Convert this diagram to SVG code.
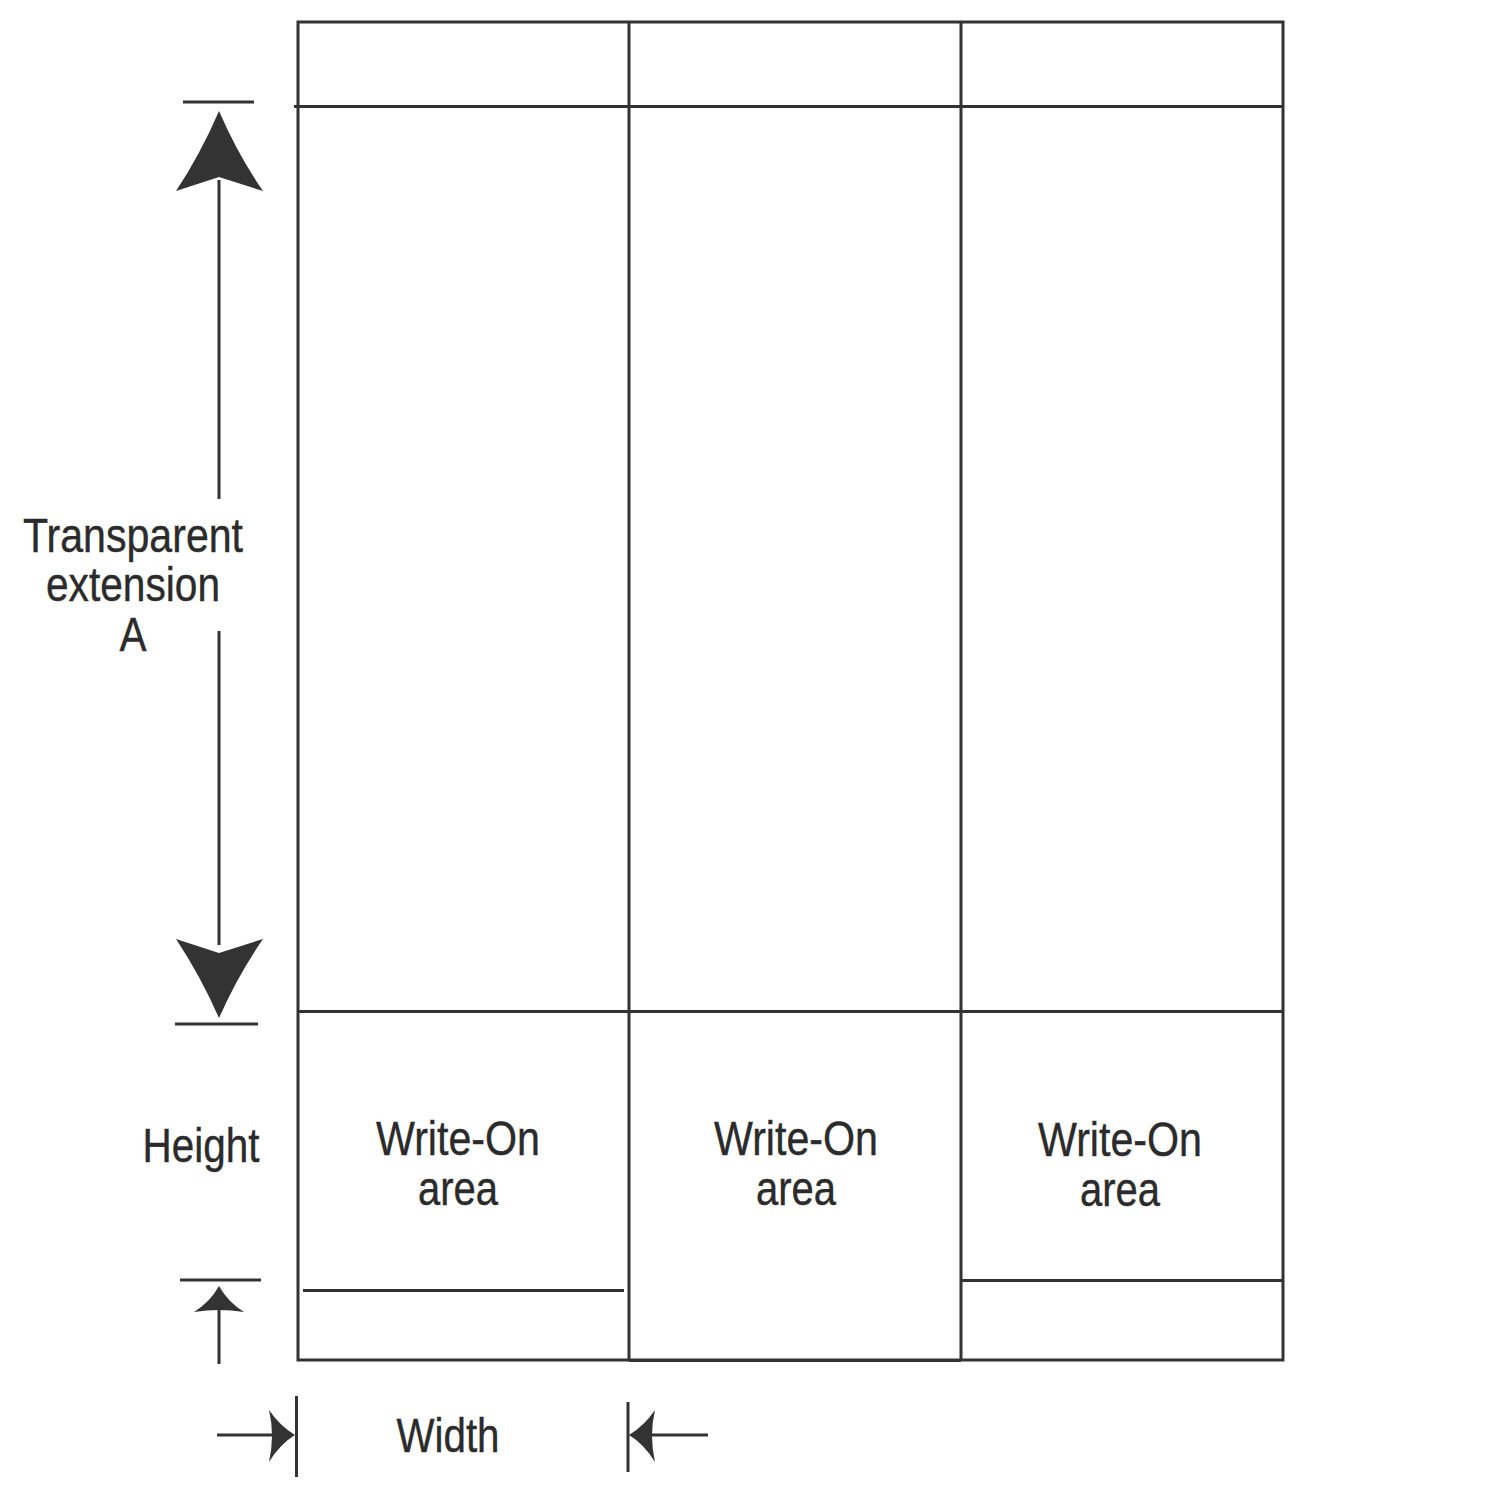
<svg xmlns="http://www.w3.org/2000/svg" width="1500" height="1500" viewBox="0 0 1500 1500">
<style>
.ln{stroke:#333;stroke-width:3;fill:none}
.ah{fill:#333;stroke:none}
.t{font-family:"Liberation Sans",Arial,sans-serif;font-size:48px;fill:#2b2b2b;stroke:#2b2b2b;stroke-width:0.4;text-anchor:middle}
</style>
<rect width="1500" height="1500" fill="#fff"/>
<g id="frame">
<rect class="ln" x="298" y="22" width="985" height="1338"/>
<line class="ln" x1="294" y1="106.5" x2="1283" y2="106.5"/>
<line class="ln" x1="298" y1="1011.5" x2="1283" y2="1011.5"/>
<line class="ln" x1="629" y1="22" x2="629" y2="1361"/>
<line class="ln" x1="961" y1="22" x2="961" y2="1361"/>
<line class="ln" x1="629" y1="1360.5" x2="961" y2="1360.5"/>
</g>
<g id="col1">
<line class="ln" x1="303" y1="1290.5" x2="624" y2="1290.5"/>
<text class="t" x="458" y="1155" textLength="164" lengthAdjust="spacingAndGlyphs">Write-On</text>
<text class="t" x="458" y="1205" textLength="80" lengthAdjust="spacingAndGlyphs">area</text>
</g>
<g id="col2">
<text class="t" x="796" y="1155" textLength="164" lengthAdjust="spacingAndGlyphs">Write-On</text>
<text class="t" x="796" y="1205" textLength="80" lengthAdjust="spacingAndGlyphs">area</text>
</g>
<g id="col3">
<line class="ln" x1="961" y1="1280.5" x2="1283" y2="1280.5"/>
<text class="t" x="1120" y="1156" textLength="164" lengthAdjust="spacingAndGlyphs">Write-On</text>
<text class="t" x="1120" y="1206" textLength="80" lengthAdjust="spacingAndGlyphs">area</text>
</g>
<g id="connectors">
<line class="ln" x1="183" y1="102" x2="254" y2="102"/>
<path class="ah" d="M219,111 Q200,155 176,191 L219,177 L263,191 Q238,155 219,111 Z"/>
<line class="ln" x1="219" y1="180" x2="219" y2="499"/>
<line class="ln" x1="219" y1="631" x2="219" y2="945"/>
<path class="ah" d="M219,1018 Q200,975 176,939 L219,953 L263,939 Q238,975 219,1018 Z"/>
<line class="ln" x1="175" y1="1024" x2="258" y2="1024"/>
<line class="ln" x1="180" y1="1280" x2="261" y2="1280"/>
<path class="ah" d="M219,1286 Q210,1302 194,1312 Q219,1308 244,1312 Q228,1302 219,1286 Z"/>
<line class="ln" x1="219" y1="1308" x2="219" y2="1364"/>
<line class="ln" x1="296.5" y1="1396" x2="296.5" y2="1477"/>
<line class="ln" x1="217" y1="1435" x2="280" y2="1435"/>
<path class="ah" d="M295,1435 Q280,1426 269,1410 Q275,1435 269,1462 Q280,1444 295,1435 Z"/>
<line class="ln" x1="628" y1="1402" x2="628" y2="1472"/>
<line class="ln" x1="645" y1="1435" x2="708" y2="1435"/>
<path class="ah" d="M629,1435 Q644,1426 655,1410 Q649,1435 655,1462 Q644,1444 629,1435 Z"/>
</g>
<g id="labels">
<text class="t" x="133" y="552" textLength="220" lengthAdjust="spacingAndGlyphs">Transparent</text>
<text class="t" x="133" y="601" textLength="174" lengthAdjust="spacingAndGlyphs">extension</text>
<text class="t" x="133" y="651" textLength="27" lengthAdjust="spacingAndGlyphs">A</text>
<text class="t" x="201" y="1162" textLength="117" lengthAdjust="spacingAndGlyphs">Height</text>
<text class="t" x="448" y="1452" textLength="103" lengthAdjust="spacingAndGlyphs">Width</text>
</g>
</svg>
